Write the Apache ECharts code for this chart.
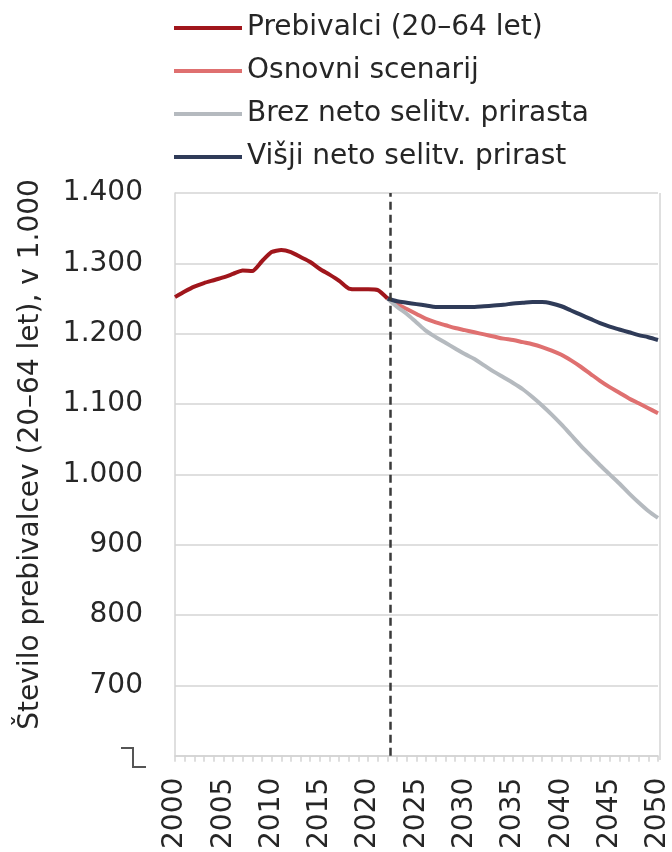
<!DOCTYPE html>
<html>
<head>
<meta charset="utf-8">
<script src="https://cdn.jsdelivr.net/npm/echarts@6/dist/echarts.min.js"></script>
<style>
  html, body { margin: 0; padding: 0; background: #fff; }
  #chart { width: 672px; height: 852px; }
</style>
</head>
<body>
<div id="chart"></div>
<script>
// historical population 20-64, thousands
const histYears = [2000, 2001, 2002, 2003, 2004, 2005, 2006, 2007, 2008, 2009, 2010, 2011,
  2012, 2013, 2014, 2015, 2016, 2017, 2018, 2019, 2020, 2021, 2022];
const histValues = [1252, 1260, 1267, 1272, 1276, 1280, 1285, 1290, 1289, 1303, 1316, 1319,
  1316, 1309, 1302, 1292, 1284, 1275, 1264, 1263, 1263, 1262, 1250];

// projections
const projYears = [2022, 2023, 2024, 2025, 2026, 2027, 2028, 2029, 2030, 2031, 2032, 2033,
  2034, 2035, 2036, 2037, 2038, 2039, 2040, 2041, 2042, 2043, 2044, 2045, 2046, 2047,
  2048, 2049, 2050];
const baseValues = [1250, 1242, 1235, 1228, 1221, 1216, 1212, 1208, 1205, 1202, 1199, 1196,
  1193, 1191, 1188, 1185, 1181, 1176, 1170, 1162, 1153, 1143, 1133, 1124, 1116, 1108,
  1101, 1094, 1087];
const noMigValues = [1250, 1238, 1228, 1216, 1204, 1195, 1187, 1179, 1171, 1164, 1155, 1146,
  1138, 1130, 1121, 1110, 1098, 1085, 1071, 1056, 1041, 1027, 1013, 1000, 987, 973,
  960, 948, 938];
const highMigValues = [1250, 1246, 1244, 1242, 1240, 1238, 1238, 1238, 1238, 1238, 1239, 1240,
  1241, 1243, 1244, 1245, 1245, 1243, 1239, 1233, 1227, 1221, 1215, 1210, 1206, 1202,
  1198, 1195, 1191];

const seriesNames = ['Prebivalci (20–64 let)', 'Osnovni scenarij',
  'Brez neto selitv. prirasta', 'Višji neto selitv. prirast'];
const cutYear = 2022.3;

const zip = (xs, ys) => xs.map((x, i) => [x, ys[i]]);

const font = 'DejaVu Sans, sans-serif';
const textColor = '#262626';
const gridColor = '#d4d4d4';

const chart = echarts.init(document.getElementById('chart'));

chart.setOption({
  animation: false,
  grid: {left: 175, right: 12, top: 193, bottom: 92},
  legend: {
    orient: 'vertical',
    left: 174,
    top: 13,
    padding: 0,
    icon: 'rect',
    itemWidth: 68,
    itemHeight: 4,
    itemGap: 13,
    data: seriesNames,
    textStyle: {fontFamily: font, fontSize: 28, color: textColor, lineHeight: 30}
  },
  xAxis: {
    type: 'value',
    min: 2000,
    max: 2050,
    interval: 5,
    axisLine: {show: true, lineStyle: {color: gridColor, width: 1.5}},
    axisTick: {show: true, length: 6, lineStyle: {color: gridColor, width: 1.5}},
    minorTick: {show: true, splitNumber: 5, length: 6, lineStyle: {color: gridColor, width: 1.5}},
    splitLine: {show: false},
    axisLabel: {
      rotate: 90,
      margin: 22,
      fontFamily: font,
      fontSize: 28,
      color: textColor,
      formatter: v => String(v)
    }
  },
  yAxis: {
    type: 'value',
    min: 600,
    max: 1400,
    interval: 100,
    name: 'Število prebivalcev (20–64 let), v 1.000',
    nameLocation: 'middle',
    nameGap: 130,
    nameTextStyle: {fontFamily: font, fontSize: 28, color: textColor, padding: [0, 0, 0, 40]},
    axisLine: {show: true, lineStyle: {color: gridColor, width: 1.5}},
    axisTick: {show: false},
    splitLine: {lineStyle: {color: gridColor, width: 1.5}},
    axisLabel: {
      margin: 32,
      fontFamily: font,
      fontSize: 28,
      color: textColor,
      formatter: v => v === 600 ? '' : v.toString().replace(/\B(?=(\d{3})+(?!\d))/g, '.')
    }
  },
  graphic: [
    // right border of plot
    {type: 'line', shape: {x1: 660, y1: 193, x2: 660, y2: 760},
      style: {stroke: gridColor, lineWidth: 1.5}, silent: true},
    // axis break sign in place of the 600 label
    {type: 'polyline', shape: {points: [[121, 748], [133, 748], [133, 767], [146, 767]]},
      style: {stroke: '#555', lineWidth: 2, fill: null}, silent: true}
  ],
  series: [
    {
      name: seriesNames[0],
      type: 'line',
      data: zip(histYears, histValues),
      showSymbol: false,
      smooth: 0.2,
      lineStyle: {color: '#a0161c', width: 4},
      itemStyle: {color: '#a0161c'},
      z: 5,
      markLine: {
        silent: true,
        symbol: 'none',
        label: {show: false},
        lineStyle: {color: '#3a3a3a', type: [8, 5], width: 2.5},
        data: [{xAxis: cutYear}]
      }
    },
    {
      name: seriesNames[1],
      type: 'line',
      data: zip(projYears, baseValues),
      showSymbol: false,
      smooth: 0.3,
      lineStyle: {color: '#df7070', width: 4},
      itemStyle: {color: '#df7070'}
    },
    {
      name: seriesNames[2],
      type: 'line',
      data: zip(projYears, noMigValues),
      showSymbol: false,
      smooth: 0.3,
      lineStyle: {color: '#b5babf', width: 4},
      itemStyle: {color: '#b5babf'}
    },
    {
      name: seriesNames[3],
      type: 'line',
      data: zip(projYears, highMigValues),
      showSymbol: false,
      smooth: 0.3,
      lineStyle: {color: '#2f3b58', width: 4},
      itemStyle: {color: '#2f3b58'}
    }
  ]
});
</script>
</body>
</html>
